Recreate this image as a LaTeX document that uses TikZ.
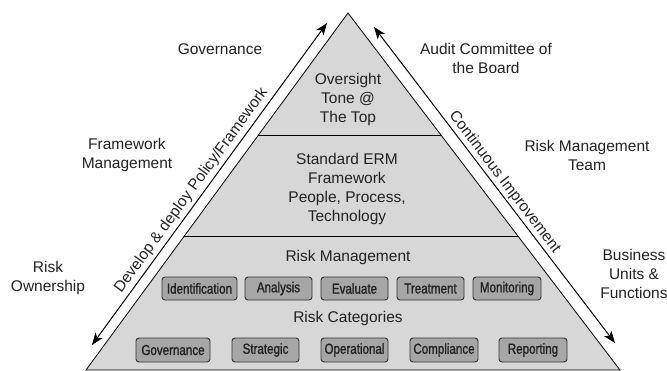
\documentclass[tikz,border=0pt]{standalone}
\usepackage{fontspec}
\setmainfont{Liberation Sans}
\newfontfamily\condfont[FakeStretch=0.80,FakeBold=1.2]{Liberation Sans}
\usetikzlibrary{arrows.meta,calc}
\definecolor{pyrfill}{HTML}{D7D7D7}
\definecolor{boxfill}{HTML}{A6A6A6}
\definecolor{boxline}{HTML}{333333}
\definecolor{txt}{HTML}{222222}
\tikzset{
  lbl/.style={align=center, text=txt, font=\fontsize{15.5}{19}\selectfont, inner sep=0pt},
  pbox/.style={draw=boxline, fill=boxfill, rounded corners=3pt, line width=0.9pt,
    minimum height=23pt, inner sep=0pt, text=txt,
    font=\condfont\fontsize{14.5}{14.5}\selectfont},
  bigarrow/.style={line width=1pt, {Stealth[length=12pt,width=9pt,inset=3pt]}-{Stealth[length=12pt,width=9pt,inset=3pt]}},
}
\begin{document}
\begin{tikzpicture}[x=1pt,y=-1pt]
\useasboundingbox (0,0) rectangle (667,370);
% pyramid
\coordinate (apex) at (348,13);
\coordinate (bl) at (86,370);
\coordinate (br) at (620,370);
\draw[fill=pyrfill, line width=0.8pt, line join=miter] (bl) -- (apex) -- (br) -- cycle;
\coordinate (d1l) at ($(apex)!0.342!(bl)$);
\coordinate (d1r) at ($(apex)!0.342!(br)$);
\coordinate (d2l) at ($(apex)!0.627!(bl)$);
\coordinate (d2r) at ($(apex)!0.627!(br)$);
\draw[line width=0.8pt] (d1l) -- (d1r);
\draw[line width=0.8pt] (d2l) -- (d2r);
% pyramid texts
\node[lbl] (oversight) at (348,99) {Oversight\\Tone @\\The Top};
\node[lbl] (erm) at (347,189) {Standard ERM\\Framework\\People, Process,\\Technology};
\node[lbl] (rm) at (348,257) {Risk Management};
\node[lbl] (rc) at (348,318) {Risk Categories};
% boxes row 1
\node[pbox, minimum width=75pt] (ident) at (199.5,288.5) {Identification};
\node[pbox, minimum width=67pt] (anal) at (278.5,288.5) {Analysis};
\node[pbox, minimum width=67pt] (eval) at (354.5,288.5) {Evaluate};
\node[pbox, minimum width=67pt] (treat) at (430.5,288.5) {Treatment};
\node[pbox, minimum width=68pt] (monit) at (507,288.5) {Monitoring};
% boxes row 2
\node[pbox, minimum width=74pt, minimum height=24pt] (gov) at (173,350) {Governance};
\node[pbox, minimum width=67pt, minimum height=24pt] (strat) at (265.5,350) {Strategic};
\node[pbox, minimum width=67pt, minimum height=24pt] (oper) at (354.5,350) {Operational};
\node[pbox, minimum width=68pt, minimum height=24pt] (compl) at (444,350) {Compliance};
\node[pbox, minimum width=68pt, minimum height=24pt] (report) at (533,350) {Reporting};
% side labels
\node[lbl] (governance) at (220,49) {Governance};
\node[lbl] (fwm) at (127,155) {Framework\\Management};
\node[lbl] (ro) at (48,278) {Risk\\Ownership};
\node[lbl] (audit) at (486,58.5) {Audit Committee of\\the Board};
\node[lbl] (rmt) at (587,155) {Risk Management\\Team};
\node[lbl] (bu) at (634,273.5) {Business\\Units \&\\Functions};
% arrows
\coordinate (la) at (92,345);
\coordinate (lb) at (327,23);
\coordinate (ra) at (374,27);
\coordinate (rb) at (615,343);
\draw[bigarrow] (la) -- node[lbl, pos=0.46, sloped, above, inner sep=3pt] (dev) {Develop \& deploy Policy/Framework} (lb);
\draw[bigarrow] (ra) -- node[lbl, pos=0.51, sloped, above, inner sep=2pt] (ci) {Continuous Improvement} (rb);
\end{tikzpicture}
\end{document}
